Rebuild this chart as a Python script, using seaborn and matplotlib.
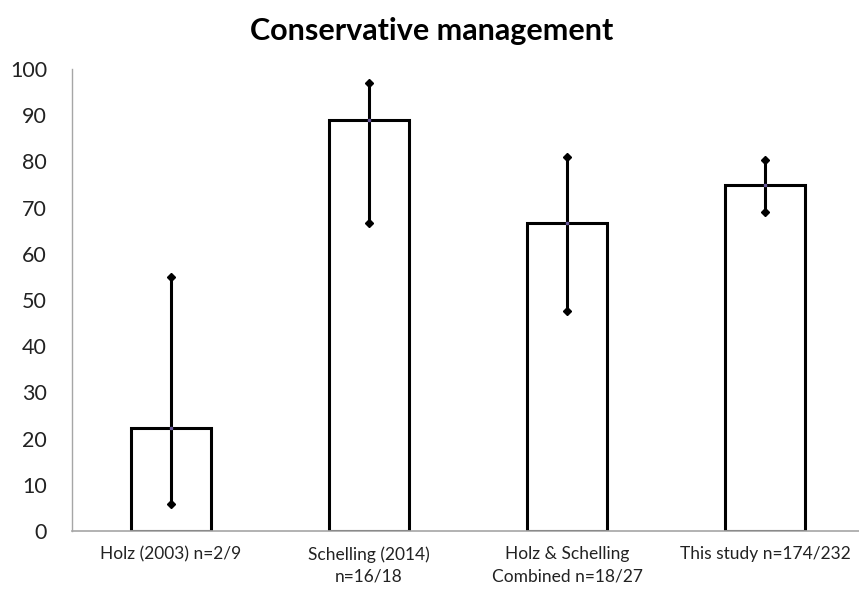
import matplotlib
matplotlib.use("Agg")
import matplotlib.pyplot as plt
import seaborn as sns
import pandas as pd
import numpy as np

# Proportion managed conservatively, with 95% confidence limits
categories = ["Holz (2003) n=2/9", "Schelling (2014)\nn=16/18",
              "Holz & Schelling\nCombined n=18/27", "This study n=174/232"]
percent = [22.2, 88.9, 66.7, 75.0]
ci_low = [5.8, 66.7, 47.7, 69.0]
ci_high = [55.0, 96.9, 81.0, 80.2]
y_ticks = [0, 10, 20, 30, 40, 50, 60, 70, 80, 90, 100]

sns.set_theme(style="white")
plt.rcParams["font.family"] = ["Lato", "DejaVu Sans"]

df = pd.DataFrame({"study": categories, "percent": percent})

fig = plt.figure(figsize=(8.59, 5.94), dpi=100)
ax = fig.add_axes([72 / 859, 63 / 594, 792 / 859, 462 / 594])

sns.barplot(data=df, x="study", y="percent", ax=ax, width=0.404,
            color="white", edgecolor="black", linewidth=2.2,
            errorbar=None, saturation=1)
for p in ax.patches:
    p.set_facecolor("white")
    p.set_edgecolor("black")

xs = np.arange(len(categories))
vals = np.array(percent)
lo = np.array(ci_low)
hi = np.array(ci_high)
ax.errorbar(xs, vals, yerr=[vals - lo, hi - vals], fmt="none",
            ecolor="black", elinewidth=2.2, capsize=0, zorder=5)
ax.plot(xs, lo, linestyle="none", marker="D", markersize=4.5,
        color="black", zorder=6)
ax.plot(xs, hi, linestyle="none", marker="D", markersize=4.5,
        color="black", zorder=6)
ax.plot(xs, vals, linestyle="none", marker="s", markersize=2,
        color="#6a5a9a", zorder=7)

ax.set_xlim(-0.5, 3.5)
ax.set_ylim(0, 100)
ax.set_yticks(y_ticks)
ax.set_yticklabels([str(t) for t in y_ticks], fontsize=15.5, color="#222222")
ax.tick_params(axis="y", length=0, pad=18)
ax.tick_params(axis="x", length=0, pad=11)
for lbl in ax.get_xticklabels():
    lbl.set_fontsize(12.5)
    lbl.set_color("#222222")
    lbl.set_linespacing(1.45)
ax.set_xlabel("")
ax.set_ylabel("")

for side in ["top", "right"]:
    ax.spines[side].set_visible(False)
ax.spines["left"].set_color("#a6a6a6")
ax.spines["left"].set_linewidth(1.0)
ax.spines["bottom"].set_color("#a6a6a6")
ax.spines["bottom"].set_linewidth(1.2)

fig.text(0.503, 0.948, "Conservative management", ha="center", va="center",
         fontsize=22, fontweight="bold", color="black")

fig.savefig("out.png", dpi=100, facecolor="white")
